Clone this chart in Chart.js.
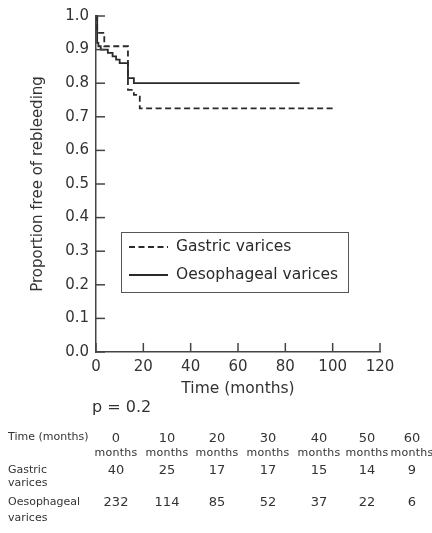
<!DOCTYPE html>
<html>
<head>
<meta charset="utf-8">
<script src="https://cdn.jsdelivr.net/npm/chart.js@4.4.0/dist/chart.umd.min.js"></script>
<style>
  html, body { margin: 0; padding: 0; background: #fff; }
  #wrap { position: relative; width: 432px; height: 533px; }
  #kmChart { position: absolute; left: 0; top: 0; }
  .t { position: absolute; font-family: "DejaVu Sans", sans-serif; color: #333; white-space: nowrap; line-height: 1; }
  .c { transform: translateX(-50%); }
</style>
</head>
<body>
<div id="wrap">
  <canvas id="kmChart" width="432" height="533"></canvas>
  <div id="pval" class="t" style="left:92px; top:399px; font-size:16px;">p = 0.2</div>
  <div id="riskTable"></div>
</div>
<script>
// ==== DATA ====
const gastricTimes = [0, 0.5, 3.5, 13.5, 16, 18.5, 101];
const gastricSurv  = [1.0, 0.95, 0.91, 0.78, 0.765, 0.725, 0.725];
const oesoTimes = [0, 0.5, 1, 2, 5, 7, 8.5, 10, 13.5, 16, 86];
const oesoSurv  = [1.0, 0.92, 0.91, 0.90, 0.89, 0.88, 0.87, 0.86, 0.815, 0.80, 0.80];

const seriesLabels = ['Gastric varices', 'Oesophageal varices'];

// numbers at risk
const riskTimes = ['0', '10', '20', '30', '40', '50', '60'];
const gastricAtRisk = [40, 25, 17, 17, 15, 14, 9];
const oesoAtRisk = [232, 114, 85, 52, 37, 22, 6];

const ink = '#2a2a2a';
const axisColor = '#444';
const fontFamily = '"DejaVu Sans", sans-serif';

function toPoints(xs, ys) {
  return xs.map((x, i) => ({ x: x, y: ys[i] }));
}

// ==== PLUGINS ====
// ticks pointing into the plot, like the original figure
const inwardTicks = {
  id: 'inwardTicks',
  afterDraw(chart) {
    const { ctx, chartArea, scales: { x, y } } = chart;
    ctx.save();
    ctx.strokeStyle = axisColor;
    ctx.lineWidth = 1.5;
    y.ticks.forEach(t => {
      const py = y.getPixelForValue(t.value);
      ctx.beginPath();
      ctx.moveTo(chartArea.left, py);
      ctx.lineTo(chartArea.left + 9, py);
      ctx.stroke();
    });
    x.ticks.forEach(t => {
      const px = x.getPixelForValue(t.value);
      ctx.beginPath();
      ctx.moveTo(px, chartArea.bottom);
      ctx.lineTo(px, chartArea.bottom - 9);
      ctx.stroke();
    });
    ctx.restore();
  }
};

// boxed legend inside the plot area
const boxLegend = {
  id: 'boxLegend',
  afterDraw(chart) {
    const { ctx, chartArea } = chart;
    const left = chartArea.left + 25, top = chartArea.top + 216;
    const w = 227, h = 60;
    ctx.save();
    ctx.strokeStyle = '#555';
    ctx.lineWidth = 1;
    ctx.strokeRect(left + 0.5, top + 0.5, w, h);
    ctx.font = '15.5px ' + fontFamily;
    ctx.fillStyle = ink;
    ctx.textBaseline = 'middle';
    chart.data.datasets.forEach((ds, i) => {
      const cy = top + 15 + i * 28;
      ctx.strokeStyle = ds.borderColor;
      ctx.lineWidth = ds.borderWidth;
      ctx.setLineDash(ds.borderDash || []);
      ctx.beginPath();
      ctx.moveTo(left + 8, cy);
      ctx.lineTo(left + 47, cy);
      ctx.stroke();
      ctx.setLineDash([]);
      ctx.fillText(ds.label, left + 55, cy);
    });
    ctx.restore();
  }
};

// ==== CHART ====
new Chart(document.getElementById('kmChart'), {
  type: 'line',
  data: {
    datasets: [{
      label: seriesLabels[0],
      data: toPoints(gastricTimes, gastricSurv),
      borderColor: ink,
      borderWidth: 1.8,
      borderDash: [6, 3.5],
      stepped: true,
      pointRadius: 0,
      clip: false
    }, {
      label: seriesLabels[1],
      data: toPoints(oesoTimes, oesoSurv),
      borderColor: ink,
      borderWidth: 1.8,
      stepped: true,
      pointRadius: 0,
      clip: false
    }]
  },
  options: {
    responsive: false,
    animation: false,
    layout: { padding: { top: 16, right: 52, bottom: 131, left: 0 } },
    plugins: { legend: { display: false }, tooltip: { enabled: false } },
    scales: {
      x: {
        type: 'linear',
        min: 0, max: 120,
        afterFit(s) { s.height = 50; },
        grid: { drawOnChartArea: false, drawTicks: false },
        border: { display: true, color: axisColor, width: 1.5 },
        ticks: { stepSize: 20, padding: 6, color: '#333', font: { family: fontFamily, size: 15 } },
        title: { display: true, text: 'Time (months)', color: '#333', padding: { bottom: 4 },
                 font: { family: fontFamily, size: 15.5 } }
      },
      y: {
        min: 0, max: 1,
        afterFit(s) { s.width = 96; },
        grid: { drawOnChartArea: false, drawTicks: false },
        border: { display: true, color: axisColor, width: 1.5 },
        ticks: { stepSize: 0.1, padding: 7, color: '#333', font: { family: fontFamily, size: 15 },
                 callback: v => v.toFixed(1) },
        title: { display: true, text: 'Proportion free of rebleeding', color: '#333', padding: { top: 29 },
                 font: { family: fontFamily, size: 15 } }
      }
    }
  },
  plugins: [inwardTicks, boxLegend]
});

// ==== NUMBERS AT RISK TABLE ====
const colX = [116, 167, 217, 268, 319, 367, 412];
const table = document.getElementById('riskTable');
function addText(txt, x, y, size, centered, spacing) {
  const d = document.createElement('div');
  d.className = 't' + (centered ? ' c' : '');
  d.style.left = x + 'px';
  d.style.top = y + 'px';
  d.style.fontSize = size + 'px';
  if (spacing) d.style.letterSpacing = spacing + 'px';
  d.textContent = txt;
  table.appendChild(d);
}
addText('Time (months)', 8, 431, 11);
riskTimes.forEach((t, i) => {
  addText(t, colX[i], 431, 13, true);
  addText('months', colX[i], 447, 11, true, 0.3);
});
addText('Gastric', 8, 464, 11);
addText('varices', 8, 477, 11);
gastricAtRisk.forEach((n, i) => addText(String(n), colX[i], 463, 13, true));
addText('Oesophageal', 8, 496, 11);
addText('varices', 8, 512, 11);
oesoAtRisk.forEach((n, i) => addText(String(n), colX[i], 495, 13, true));
</script>
</body>
</html>
